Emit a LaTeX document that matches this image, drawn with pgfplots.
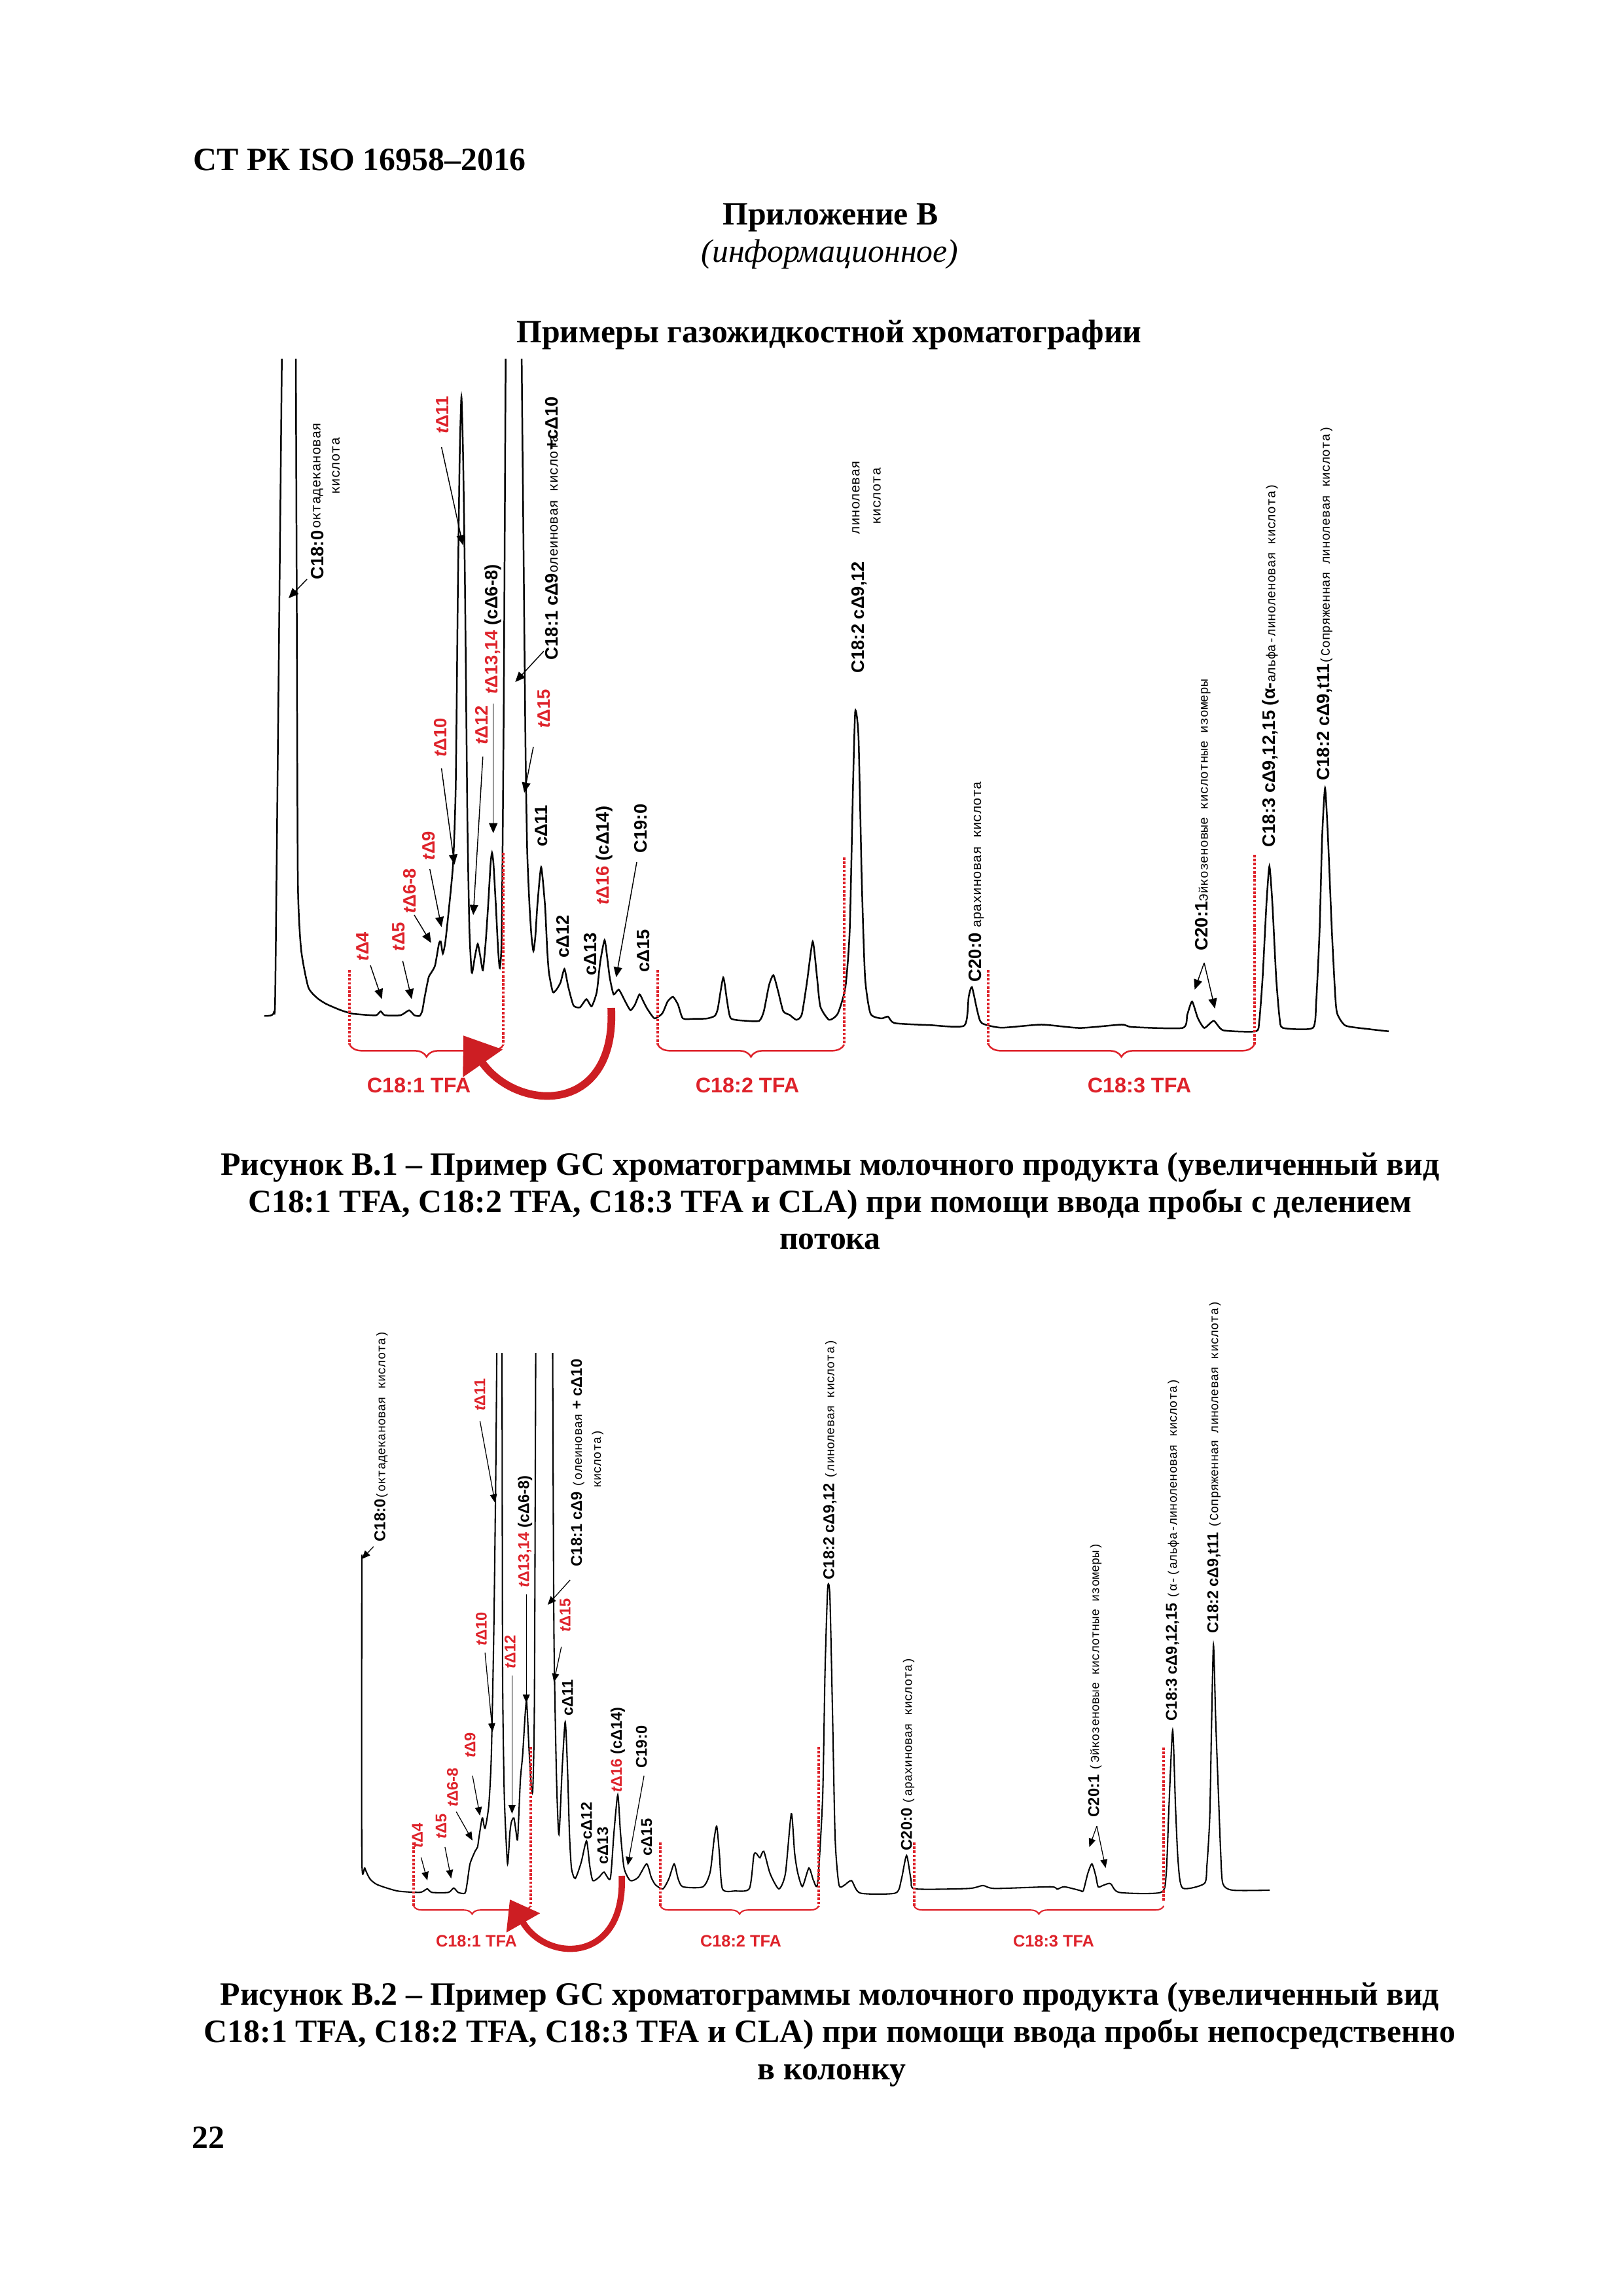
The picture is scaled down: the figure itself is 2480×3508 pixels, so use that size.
\documentclass[border=0pt]{standalone}
\usepackage{fontspec}
\setmainfont{Liberation Serif}
\newfontfamily\lab{Liberation Sans}
\newfontfamily\mono{Liberation Mono}
\usepackage{pgfplots}
\pgfplotsset{compat=1.18}
\usetikzlibrary{arrows.meta,decorations.pathreplacing}
\definecolor{tred}{RGB}{222,34,42}
\definecolor{ared}{RGB}{205,30,35}
\newcommand\tD{{\itshape t}Δ}
\newcommand\mA{\mono\mdseries\fontsize{5}{6}\selectfont}
\newcommand\mB{\mono\mdseries\fontsize{4.7}{6}\selectfont}
\newcommand\mC{\mono\mdseries\fontsize{4.5}{5}\selectfont}
\begin{document}
\begin{tikzpicture}[x=0.0846774mm,y=-0.0846774mm,
 L/.style={font=\lab\bfseries\fontsize{6.6}{7}\selectfont, rotate=90, inner sep=0pt},
 R/.style={L, text=tred},
 N/.style={font=\mA, rotate=90, inner sep=0pt},
 L2/.style={font=\lab\bfseries\fontsize{5.7}{6}\selectfont, rotate=90, inner sep=0pt},
 R2/.style={L2, text=tred},
 N2/.style={font=\mC, rotate=90, inner sep=0pt},
 ar/.style={line width=0.35pt, -{Triangle[length=1.3mm,width=1.1mm]}},
 ar2/.style={line width=0.3pt, -{Triangle[length=1.1mm,width=0.9mm]}},
 dl/.style={tred, line width=1pt, dash pattern=on 0.9pt off 0.6pt},
 br/.style={tred, line width=0.6pt, decorate, decoration={brace, mirror, amplitude=4.5pt}},
 br2/.style={tred, line width=0.5pt, decorate, decoration={brace, mirror, amplitude=3pt}},
 T/.style={font=\fontsize{12}{14}\selectfont\bfseries, inner sep=0pt},
 TF/.style={font=\lab\bfseries\fontsize{7.8}{9}\selectfont, text=tred, inner sep=0pt},
 TF2/.style={font=\lab\bfseries\fontsize{6.1}{7}\selectfont, text=tred, inner sep=0pt},
]
\path[use as bounding box] (0,0) rectangle (2480,3508);
\fill[white] (0,0) rectangle (2480,3508);

% ---------- page text ----------
\node[T, anchor=base west] at (295,260) {СТ РК ISO 16958–2016};
\node[T, anchor=base] at (1269,343) {Приложение В};
\node[font=\fontsize{12}{14}\selectfont\itshape, inner sep=0pt, anchor=base] at (1268,400) {(информационное)};
\node[T, anchor=base] at (1267,523) {Примеры газожидкостной хроматографии};

\node[T, anchor=base] at (1268.5,1795) {Рисунок В.1 – Пример GC хроматограммы молочного продукта (увеличенный вид};
\node[T, anchor=base] at (1268.5,1852) {C18:1 TFA, C18:2 TFA, C18:3 TFA и CLA) при помощи ввода пробы с делением};
\node[T, anchor=base] at (1268.5,1908) {потока};

\node[T, anchor=base] at (1268,3063) {Рисунок В.2 – Пример GC хроматограммы молочного продукта (увеличенный вид};
\node[T, anchor=base] at (1268,3120) {C18:1 TFA, C18:2 TFA, C18:3 TFA и CLA) при помощи ввода пробы непосредственно};
\node[T, anchor=base] at (1271,3177) {в колонку};

\node[T, anchor=base west] at (293,3282) {22};

% ---------- chromatogram 1 ----------
\begin{axis}[at={(33.871mm,-46.403mm)}, anchor=north west, scale only axis,
  width=146.492mm, height=97.548mm, xmin=400, xmax=2130, ymin=548, ymax=1700,
  y dir=reverse, hide axis, clip mode=individual]
\addplot[black, line width=0.6pt, smooth, tension=0.35] coordinates {
(403.7,1552) (408,1552) (413,1551.5) (416.5,1550) (418.5,1546) (420.5,1520)
(425,1100) (430.6,551) (432,400)
(451,400) (452,551) (453.5,950) (455.1,1346.7) (460,1450) (471,1508) (485,1525)
(498.6,1533.8) (520,1543) (538,1548.5) (560,1550.5) (575,1551) (581.7,1545)
(588,1551) (612,1551) (625,1543.5) (633,1551) (641,1552) (645,1545)
(648.9,1522.8) (654.8,1493.4) (658.8,1486) (664.7,1475) (670.6,1442)
(673.4,1438.4) (676.6,1456.8) (680.5,1438.4) (686.4,1383.4) (692.4,1317.4)
(696.3,1200) (699.5,906.7) (702.3,700) (705,606) (707.6,700) (710.5,900)
(714.1,1250) (717.2,1420) (720.8,1486) (725.5,1462) (729.9,1442) (734,1462)
(737.8,1482.4) (742,1440) (745.8,1383.4) (749.5,1320) (751.7,1302.7) (754,1320)
(757.6,1383.4) (761,1450) (763.6,1478.8) (766.5,1430) (769.5,1100) (772.6,551)
(773.5,400) (796.5,400) (797.1,551) (800,850) (803,1150) (805.5,1300)
(809,1383.4) (812,1430) (815,1453) (818,1430) (821,1383.4) (826.8,1324.7)
(832.7,1383.4) (836,1450) (838.7,1486) (844.6,1515.4) (850,1512) (856.5,1500.8)
(862.4,1480.2) (868.3,1508) (876.2,1536) (886.1,1538.9) (896,1526.4)
(903.9,1537.4) (911.8,1515.4) (917,1470) (923.7,1436.2) (928,1465)
(931.6,1493.4) (937.5,1519.1) (945.4,1511.8) (955.3,1530) (963.2,1543.3)
(970,1535) (977.1,1519.1) (983,1530) (988.9,1541.1) (1000,1555.8) (1012,1548)
(1020,1530) (1028.3,1522.8) (1036,1535) (1043.3,1555.8) (1060,1556.5)
(1080,1556) (1092,1552) (1096.7,1541) (1105,1493.4) (1111,1530) (1116.7,1555.8)
(1140,1559.5) (1160,1559.5) (1167,1545) (1175,1505) (1181.7,1489.8) (1189,1515)
(1196.7,1544.8) (1206.7,1550.6) (1216.7,1558) (1225,1550) (1233,1500)
(1241.7,1438.4) (1248,1490) (1253.3,1537.4) (1266.7,1558) (1280,1548.5)
(1291.7,1508) (1298.3,1420) (1303.3,1200) (1306.7,1086.4) (1311.7,1126.7)
(1316.7,1346.7) (1321.7,1493.4) (1330,1548.5) (1346.7,1555.8) (1356.7,1553)
(1366.7,1563) (1420,1566) (1473.3,1566.8) (1480,1522.8) (1485,1508)
(1493.3,1544.8) (1500,1563) (1530,1570) (1591.2,1565.3) (1650,1570.4)
(1713.5,1565.3) (1730,1569) (1806.8,1570.4) (1814,1550) (1821.3,1530)
(1830,1555) (1840,1570.4) (1854.5,1559.5) (1869,1574) (1918.7,1575.6)
(1924,1560) (1929.1,1493.4) (1935,1380) (1939.5,1323.3) (1944,1380)
(1949.8,1493.4) (1955,1555) (1960.2,1570.4) (2005.8,1570.4) (2011,1530)
(2016.2,1420) (2020,1280) (2024.5,1203.7) (2029,1280) (2034.8,1420)
(2040,1520) (2043.1,1548.5) (2055.6,1566.8) (2090,1572) (2121.9,1575.6)
};
\end{axis}

% ---------- chromatogram 2 ----------
\begin{axis}[at={(42.339mm,-175.028mm)}, anchor=north west, scale only axis,
  width=123.629mm, height=79.004mm, xmin=500, xmax=1960, ymin=2067, ymax=3000,
  y dir=reverse, hide axis, clip mode=individual]
\addplot[black, line width=0.5pt, smooth, tension=0.4] coordinates {
(552.8,2375) (552.8,2834.6) (557.4,2853.8) (565,2870) (576.5,2879.2)
(607.2,2888.8) (640,2891) (647,2889) (653,2885.6) (660,2891) (685,2891)
(693.3,2884.3) (700,2891) (710.5,2892) (714,2875) (718.1,2847.4)
(725.8,2828.2) (729.6,2821.8) (731.5,2809) (735.4,2783.6) (737.3,2777.2)
(741.1,2793.1) (746.8,2758) (750.7,2681.5) (754.5,2490.2) (757.5,2250)
(759,2067) (759.5,1950) (766.5,1950) (767,2067) (767.9,2554) (770,2720)
(771.7,2777.2) (775.5,2847.4) (779,2800) (781.3,2783.6) (785.1,2777.2)
(788,2795) (790.9,2809) (795,2720) (798.5,2681.5) (804.2,2598.6)
(808.1,2668.8) (811,2720) (814,2735) (816.5,2600) (818.5,2067) (819,1950)
(844,1950) (844.4,2067) (846.3,2490) (850.2,2713.4) (854,2802.7) (859,2700)
(863.6,2630.5) (867,2700) (870,2800) (873.1,2853.7) (878.9,2869.7)
(888,2845) (896.1,2812.3) (901,2850) (905.7,2872.9) (915,2868) (922.9,2860)
(932.5,2869.7) (938,2800) (943.9,2742.1) (948,2800) (953.5,2853.7)
(963.1,2872.9) (975,2868) (988,2847.4) (995,2868) (1001.3,2879.2)
(1012.8,2885.6) (1022,2870) (1030,2847.4) (1036,2870) (1043.4,2882.4)
(1074,2882.4) (1085,2860) (1091,2810) (1095.1,2790) (1099,2830)
(1103.8,2885.6) (1123,2888.8) (1145,2885) (1151.7,2834.6) (1155.5,2831.4)
(1161,2838) (1167,2828.2) (1176.5,2862) (1190,2885.6) (1200,2862)
(1209,2770.8) (1214,2830) (1218.6,2860) (1226,2882) (1235.9,2853.7)
(1243,2873) (1249.3,2876) (1256.9,2745.3) (1260.5,2555) (1264.6,2426.4)
(1268,2440) (1272,2618) (1276,2809) (1281.8,2879.2) (1290,2880) (1301,2873)
(1314.3,2892) (1368,2892) (1377,2872) (1385.1,2834.6) (1392,2872)
(1398.5,2885.6) (1480,2885) (1501.8,2880.5) (1520,2885) (1605.2,2882.4)
(1615,2886) (1626.2,2882.4) (1650,2888) (1655,2888.8) (1662,2862)
(1668.3,2847.4) (1674,2865) (1677.9,2882.4) (1686,2880) (1696.7,2877.5)
(1710,2891) (1773.3,2891) (1781.7,2864) (1786,2760) (1791.7,2643.1)
(1796,2760) (1800,2844) (1806.7,2884.2) (1840,2877.5) (1844,2850)
(1848.3,2777) (1851,2640) (1854,2512.6) (1857.5,2630) (1861.7,2743.6)
(1865,2830) (1868.3,2877.5) (1883.3,2887.6) (1940,2887.6)
};
\end{axis}

% ---------- annotations chart 1 ----------
\node[L] at (485,848) {C18:0};
\node[N] at (486,727) {октадекановая};
\node[N] at (513.5,712) {кислота};
\draw[ar] (469,885) -- (441,914);
\node[R] at (554,1446) {\tD4}; \draw[ar] (566,1475) -- (583.6,1526.5);
\node[R] at (609.3,1431) {\tD5}; \draw[ar] (615.3,1468) -- (629.1,1526.5);
\node[R] at (626,1361) {\tD6-8}; \draw[ar] (633,1398) -- (658.8,1440.6);
\node[R] at (654.8,1292) {\tD9}; \draw[ar] (656.8,1328) -- (674.6,1416.4);
\node[R] at (672.6,1127) {\tD10}; \draw[ar] (674.6,1174) -- (694.4,1321);
\node[R] at (675.8,634) {\tD11}; \draw[ar] (674.6,683) -- (707.4,833);
\node[R] at (735.9,1108) {\tD12}; \draw[ar] (737.8,1156) -- (723.2,1398);
\node[L, anchor=west] at (753.7,1061) {\textcolor{tred}{\tD13,14} (cΔ6-8)};
\draw[ar] (753.7,1075) -- (753.7,1273);
\node[L, anchor=west] at (842.6,1009) {C18:1 cΔ9{\mA олеиновая кислота}\kern-2mm+cΔ10};
\draw[ar] (830.8,995) -- (787.3,1042);
\node[R] at (830.8,1083) {\tD15}; \draw[ar] (815,1141) -- (801.1,1211);
\node[L] at (826.8,1262) {cΔ11};
\node[L] at (860.4,1431) {cΔ12};
\node[L] at (902,1458) {cΔ13};
\node[L, anchor=west] at (923.7,1383) {\textcolor{tred}{\tD16} (cΔ14)};
\node[L] at (979,1266) {C19:0}; \draw[ar] (973,1317) -- (941.5,1493);
\node[L] at (983,1453) {cΔ15};
\node[L] at (1313.3,943) {C18:2 cΔ9,12};
\node[N] at (1308,760) {линолевая};
\node[N] at (1340,758) {кислота};
\node[L, anchor=west] at (1491.7,1501) {C20:0 {\mA арахиновая кислота}};
\node[L, anchor=west] at (1838,1453) {C20:1{\mB Эйкозеновые кислотные изомеры}};
\draw[ar] (1840,1471) -- (1825.5,1512); \draw[ar] (1840,1471) -- (1856.5,1541);
\node[L, anchor=west] at (1941.5,1295) {C18:3 cΔ9,12,15 (α-{\mB альфа-линоленовая кислота)}};
\node[L, anchor=west] at (2024.5,1193) {C18:2 cΔ9,t11{\mB(Сопряженная линолевая кислота)}};

\draw[dl] (534.2,1482) -- (534.2,1596);
\draw[dl] (769.3,1303) -- (769.3,1596);
\draw[dl] (1005,1482) -- (1005,1596);
\draw[dl] (1290,1310) -- (1290,1596);
\draw[dl] (1510.4,1482) -- (1510.4,1596);
\draw[dl] (1916.7,1306) -- (1916.7,1596);
\draw[br] (534.2,1596) -- (769.3,1596);
\draw[br] (1005,1596) -- (1290,1596);
\draw[br] (1510.4,1596) -- (1916.7,1596);
\node[TF] at (640,1658) {C18:1 TFA};
\node[TF] at (1142,1658) {C18:2 TFA};
\node[TF] at (1741,1658) {C18:3 TFA};
\draw[ared, line width=2.8pt, -{Triangle[length=4.4mm,width=6mm]}] (934,1540) .. controls (942,1705) and (790,1700) .. (708,1582);

% ---------- annotations chart 2 ----------
\node[L2, anchor=west] at (582.3,2356) {C18:0{\mC (октадекановая кислота)}};
\draw[ar2] (570.8,2363) -- (552.8,2382);
\node[R2] at (637.8,2804) {\tD4}; \draw[ar2] (643.5,2838) -- (653,2873);
\node[R2] at (674.1,2790) {\tD5}; \draw[ar2] (679.9,2822) -- (689.4,2870);
\node[R2] at (691.4,2731) {\tD6-8}; \draw[ar2] (697.1,2768) -- (722,2812);
\node[R2] at (718.1,2666) {\tD9}; \draw[ar2] (722,2713) -- (733.4,2774);
\node[R2] at (735.4,2489) {\tD10}; \draw[ar2] (741.1,2525) -- (752.6,2646);
\node[R2] at (733.4,2131) {\tD11}; \draw[ar2] (733.4,2171) -- (756.4,2296);
\node[R2] at (779.4,2524) {\tD12}; \draw[ar2] (782.4,2560) -- (782.4,2771);
\node[L2, anchor=west] at (802.3,2426) {\textcolor{tred}{\tD13,14} (cΔ6-8)};
\draw[ar2] (804.2,2436) -- (804.2,2602);
\node[L2, anchor=west] at (882.7,2394) {C18:1 cΔ9 {\mC(олеиновая} + cΔ10};
\node[N2] at (913.3,2229) {кислота)};
\draw[ar2] (871.2,2414) -- (836.8,2452);
\node[R2] at (863.6,2468) {\tD15}; \draw[ar2] (857.8,2516) -- (846.3,2570);
\node[L2] at (867.4,2594) {cΔ11};
\node[L2] at (896.1,2782) {cΔ12};
\node[L2] at (921,2820) {cΔ13};
\node[L2, anchor=west] at (944,2739) {\textcolor{tred}{\tD16} (cΔ14)};
\node[L2] at (980.3,2669) {C19:0}; \draw[ar2] (984.1,2713) -- (959.2,2850);
\node[L2] at (988,2807) {cΔ15};
\node[L2, anchor=west] at (1268.4,2414) {C18:2 cΔ9,12 {\mC(линолевая кислота)}};
\node[L2, anchor=west] at (1387,2828) {C20:0 {\mC(арахиновая кислота)}};
\node[L2, anchor=west] at (1673,2777) {C20:1 {\mC(Эйкозеновые кислотные изомеры)}};
\draw[ar2] (1676,2790) -- (1664.5,2822); \draw[ar2] (1676,2790) -- (1689.4,2854);
\node[L2, anchor=west] at (1791.7,2630) {C18:3 cΔ9,12,15 {\mC(α-(альфа-линоленовая кислота)}};
\node[L2, anchor=west] at (1855,2496) {C18:2 cΔ9,t11 {\mC(Сопряженная линолевая кислота)}};

\draw[dl] (632,2815) -- (632,2912);
\draw[dl] (810.8,2669) -- (810.8,2912);
\draw[dl] (1009,2815) -- (1009,2912);
\draw[dl] (1251.2,2669) -- (1251.2,2912);
\draw[dl] (1396.6,2815) -- (1396.6,2912);
\draw[dl] (1778.3,2670) -- (1778.3,2904);
\draw[br2] (632,2912) -- (810.8,2912);
\draw[br2] (1009,2912) -- (1251.2,2912);
\draw[br2] (1396.6,2912) -- (1778.3,2912);
\node[TF2] at (728,2966) {C18:1 TFA};
\node[TF2] at (1132,2966) {C18:2 TFA};
\node[TF2] at (1610,2966) {C18:3 TFA};
\draw[ared, line width=2.3pt, -{Triangle[length=3.5mm,width=4.8mm]}] (950,2866) .. controls (956,3000) and (835,3000) .. (779,2902);
\end{tikzpicture}
\end{document}
